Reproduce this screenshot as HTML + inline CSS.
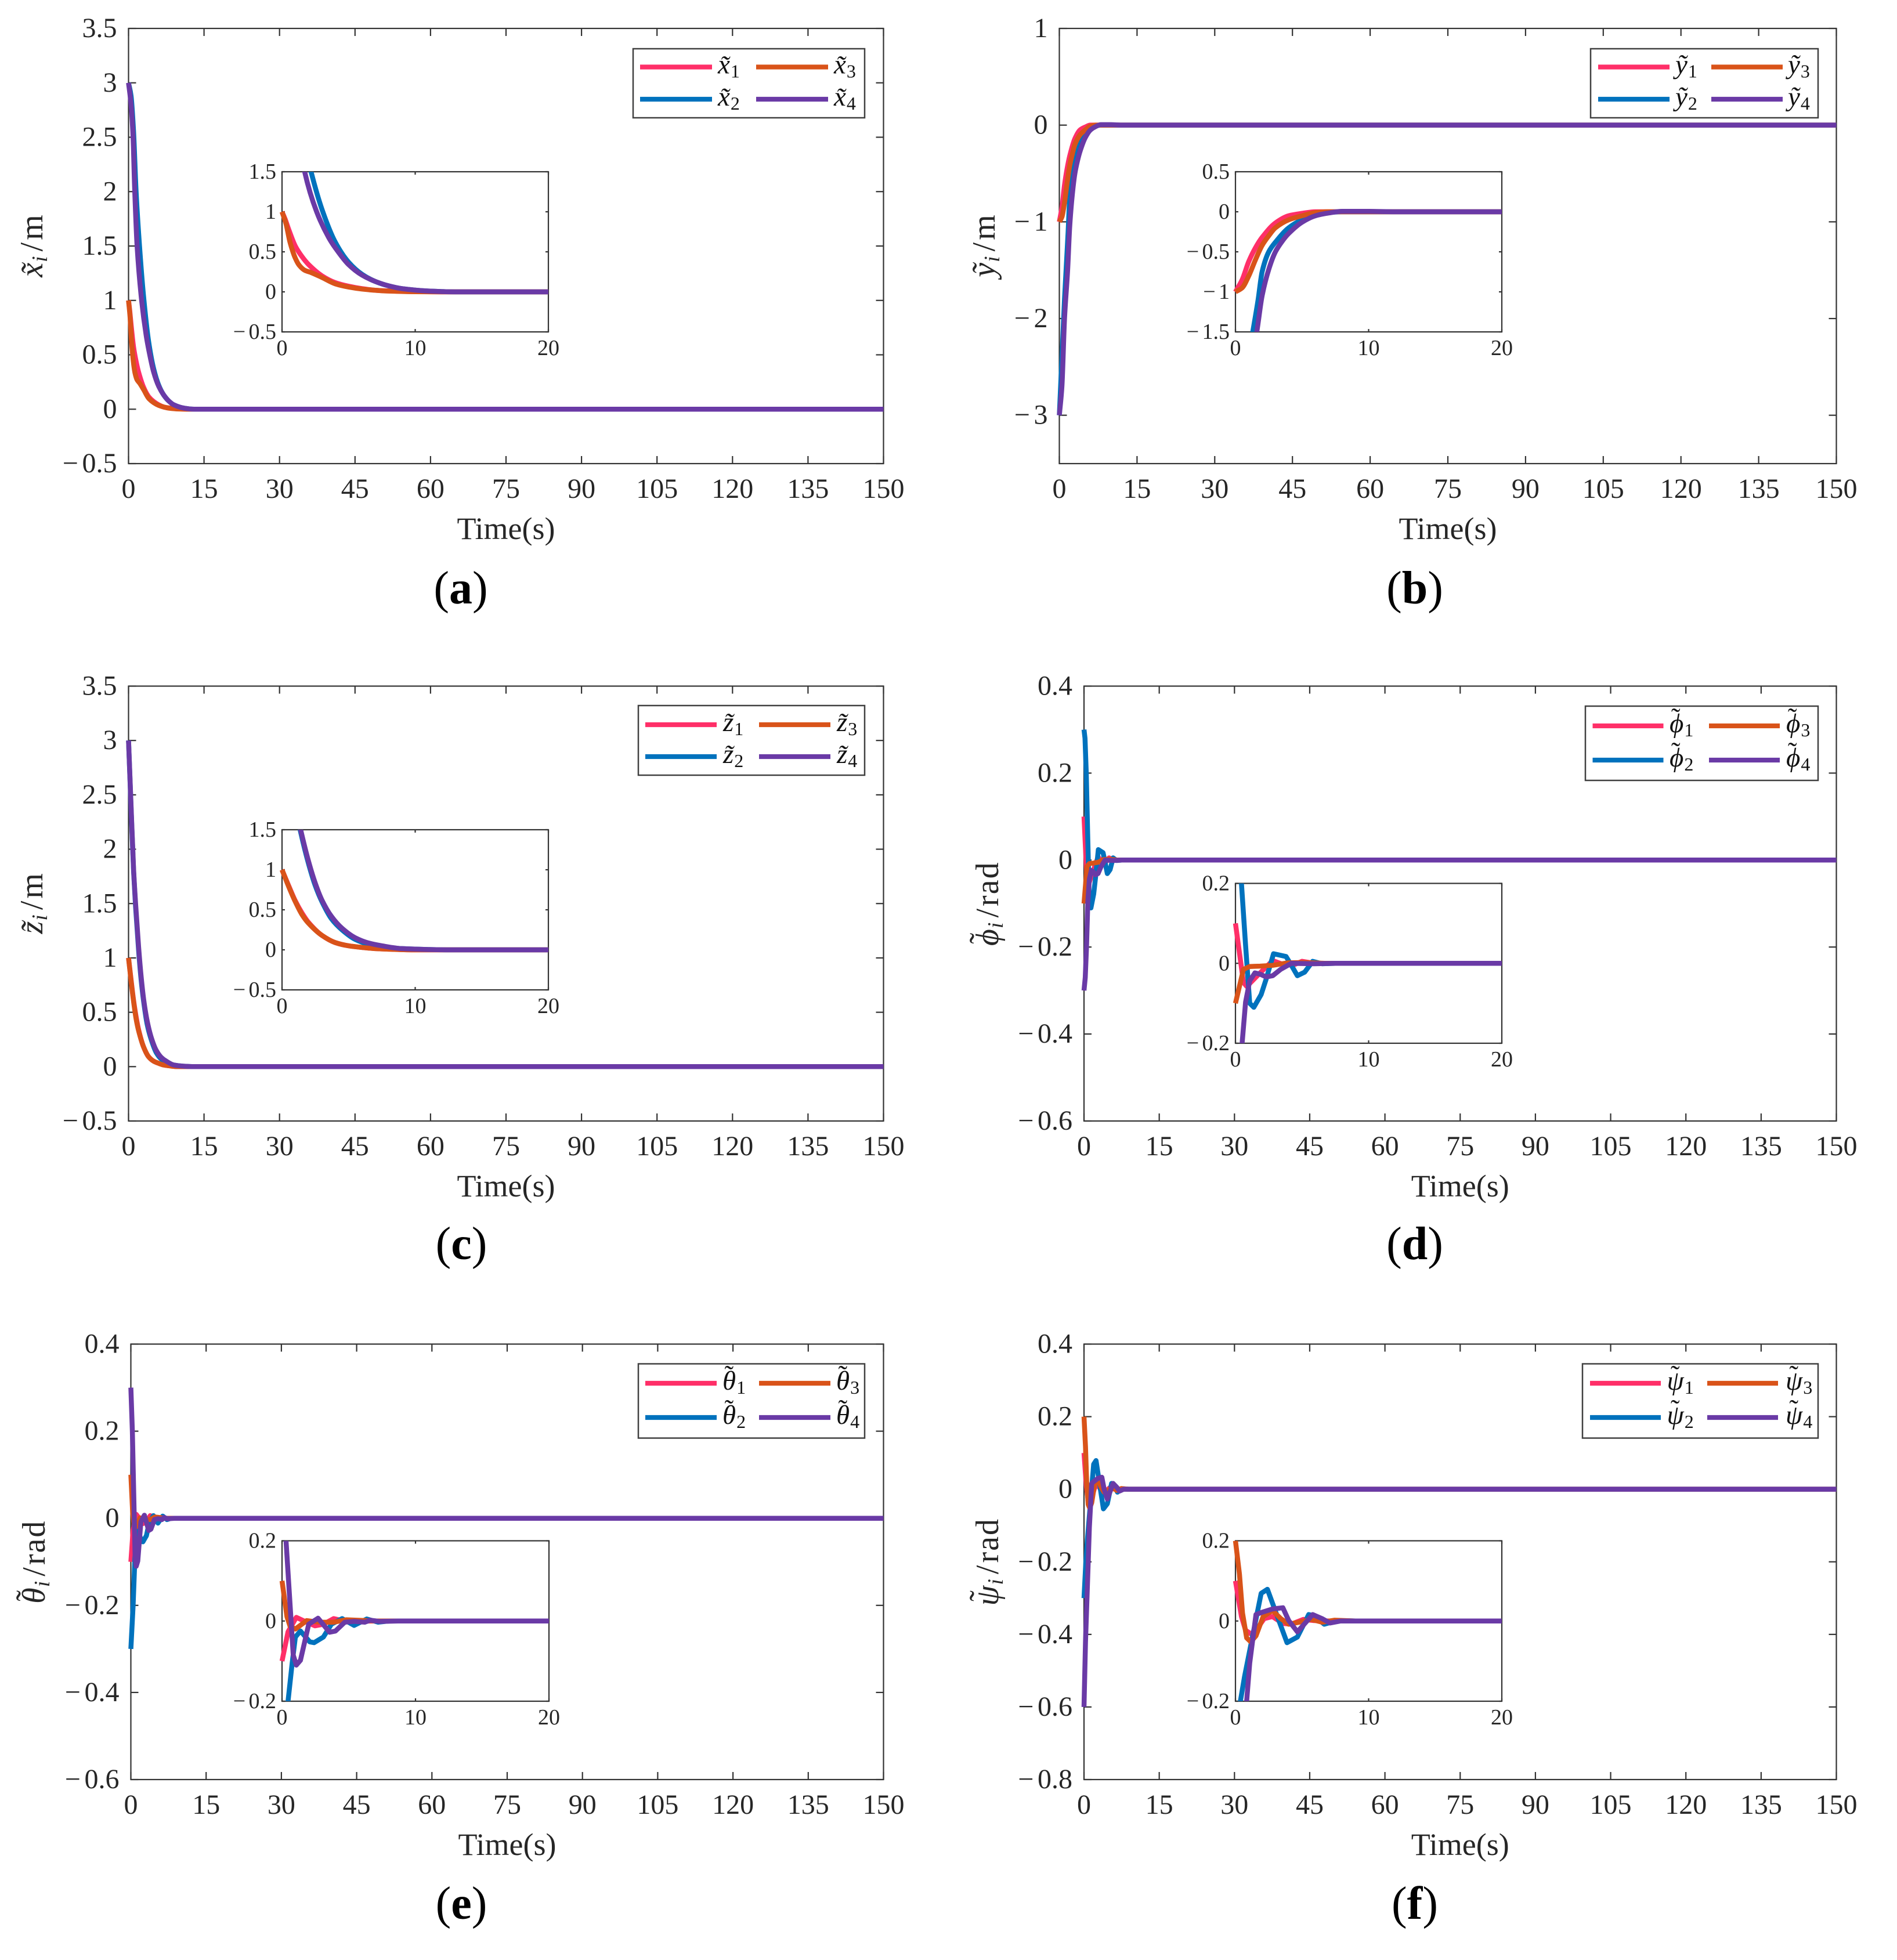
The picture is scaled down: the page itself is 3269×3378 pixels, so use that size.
<!DOCTYPE html>
<html lang="en">
<head>
<meta charset="utf-8">
<title>Tracking errors of four agents</title>
<style>
html,body{margin:0;padding:0;background:#fff;}
svg{display:block;font-family:"Liberation Serif","DejaVu Serif",serif;}
</style>
</head>
<body>
<svg id="figure" xmlns="http://www.w3.org/2000/svg" width="3269" height="3378" viewBox="0 0 3269 3378"><defs id="clips"></defs><rect width="3269" height="3378" fill="#fff"/></svg>
<script>
// ---------- shared ticks ----------
const mainXTicks = [0,15,30,45,60,75,90,105,120,135,150];
const insetXTicks = [0,10,20];

// ---------- panel a: x position error ----------
const aYTicks = [-0.5,0,0.5,1,1.5,2,2.5,3,3.5];
const aInsetYTicks = [-0.5,0,0.5,1,1.5];
const a1t = [0,0.25,0.5,1,1.5,2,3,4,5,6,7,8,10,12,150];
const a1v = [1,0.9,0.78,0.57,0.44,0.34,0.2,0.115,0.07,0.04,0.02,0.012,0.003,0,0];
const a2t = [0,0.5,1,1.5,2.18,3,4,5,6,7,8,9,11,13,150];
const a2v = [3,2.88,2.55,2.0,1.5,1.03,0.62,0.37,0.22,0.13,0.075,0.04,0.01,0,0];
const a3t = [0,0.3,0.6,1,1.3,1.7,2.2,3,4,5,6,7,8,10,12,150];
const a3v = [1,0.85,0.62,0.42,0.33,0.27,0.24,0.18,0.1,0.06,0.035,0.02,0.01,0.002,0,0];
const a4t = [0,0.5,0.9,1.2,1.7,2.6,3.5,4,5,6,7,8,9,11,13,150];
const a4v = [3,2.8,2.5,2.05,1.5,1.0,0.68,0.55,0.34,0.21,0.13,0.075,0.04,0.01,0,0];

// ---------- panel b: y position error ----------
const bYTicks = [-3,-2,-1,0,1];
const bInsetYTicks = [-1.5,-1,-0.5,0,0.5];
const b1t = [0,0.5,1,1.5,2,3,4,5,6,150];
const b1v = [-1,-0.85,-0.62,-0.45,-0.32,-0.14,-0.05,-0.02,0,0];
const b2t = [0,0.5,1,1.3,1.7,2,2.5,3,4,5,6,7,8,150];
const b2v = [-3,-2.4,-1.8,-1.5,-1.1,-0.75,-0.5,-0.38,-0.2,-0.1,-0.04,-0.01,0,0];
const b3t = [0,0.5,1,1.5,2,2.5,3,4,5,6,7,150];
const b3v = [-1,-0.95,-0.8,-0.6,-0.42,-0.3,-0.2,-0.1,-0.05,-0.01,0,0];
const b4t = [0,0.5,1,1.6,2,2.5,3,3.5,4,5,6,7,8,10,12,150];
const b4v = [-3,-2.7,-2.0,-1.5,-1.05,-0.72,-0.5,-0.37,-0.27,-0.13,-0.05,-0.015,0.005,0.005,0,0];

// ---------- panel c: z position error ----------
const cYTicks = [-0.5,0,0.5,1,1.5,2,2.5,3,3.5];
const cInsetYTicks = [-0.5,0,0.5,1,1.5];
const c1t = [0,0.5,1,1.5,2,3,4,5,6,7,8,10,150];
const c1v = [1,0.8,0.61,0.46,0.34,0.18,0.09,0.05,0.03,0.015,0.008,0,0];
const c2t = [0,0.5,1,1.4,2,2.5,3,3.7,4.5,5.5,6.5,7.5,9,11,13,150];
const c2v = [3,2.38,1.8,1.47,1.07,0.8,0.6,0.39,0.25,0.13,0.07,0.04,0.015,0.004,0,0];
const c3t = [0,0.5,1,1.5,2,3,4,5,6,7,8,10,150];
const c3v = [1,0.79,0.6,0.44,0.33,0.18,0.09,0.05,0.03,0.015,0.008,0,0];
const c4t = [0,0.5,1,1.4,2,2.5,3,3.7,4.5,5.5,6.5,7.5,9,11,13,150];
const c4v = [3,2.4,1.82,1.5,1.1,0.83,0.62,0.42,0.27,0.15,0.085,0.05,0.015,0.004,0,0];

// ---------- panel d: roll error ----------
const dYTicks = [-0.6,-0.4,-0.2,0,0.2,0.4];
const dInsetYTicks = [-0.2,0,0.2];
const d1t = [0,0.6,0.85,1.85,2.8,3.5,4.3,5,5.9,150];
const d1v = [0.1,-0.048,-0.058,-0.024,0.007,-0.002,-0.005,0.005,0,0];
const d2t = [0,0.2,0.45,0.75,1.07,1.38,1.93,2.3,2.86,3.8,4.2,4.65,5.2,5.8,6.5,7.5,150];
const d2v = [0.3,0.28,0.2,0.05,-0.1,-0.11,-0.078,-0.04,0.024,0.017,-0.005,-0.031,-0.022,0.005,-0.001,0,0];
const d3t = [0,0.6,1.07,1.85,2.8,3.9,5.1,6.7,150];
const d3v = [-0.1,-0.015,-0.008,-0.007,-0.005,0.001,0.002,0,0];
const d4t = [0,0.25,0.5,0.76,1.07,1.46,1.85,2.3,2.8,3.4,4.2,5.9,7.5,150];
const d4v = [-0.3,-0.27,-0.2,-0.097,-0.044,-0.024,-0.027,-0.034,-0.031,-0.015,0,-0.001,0,0];

// ---------- panel e: pitch error ----------
const eYTicks = [-0.6,-0.4,-0.2,0,0.2,0.4];
const eInsetYTicks = [-0.2,0,0.2];
const e1t = [0,0.45,1.07,1.85,2.47,3.1,3.87,4.8,7.1,150];
const e1v = [-0.1,-0.027,0.009,-0.003,-0.012,-0.008,0.006,-0.001,0,0];
const e2t = [0,0.45,0.76,1,1.38,2.08,2.4,3.1,3.7,4.5,5.4,6.35,7.2,8,150];
const e2v = [-0.3,-0.2,-0.105,-0.04,-0.025,-0.052,-0.054,-0.04,-0.008,0.006,-0.011,0.005,-0.003,0,0];
const e3t = [0,0.37,0.6,1,1.85,2.78,3.87,4.8,7.1,150];
const e3v = [0.1,0.011,-0.013,-0.02,0.001,-0.003,-0.003,0.003,0,0];
const e4t = [0,0.3,0.53,0.84,1.07,1.38,2,2.7,3.56,4,4.7,5.4,6.2,6.6,7.3,8.7,150];
const e4v = [0.3,0.2,0.079,-0.085,-0.11,-0.098,-0.008,0.007,-0.028,-0.025,-0.003,-0.001,-0.003,0.002,-0.001,0,0];

// ---------- panel f: yaw error ----------
const fYTicks = [-0.8,-0.6,-0.4,-0.2,0,0.2,0.4];
const fInsetYTicks = [-0.2,0,0.2];
const f1t = [0,0.45,0.76,1.15,1.54,2.16,2.78,3.56,4.18,5.1,5.9,7.1,150];
const f1v = [0.1,0.011,-0.023,-0.032,-0.023,0.006,0.011,-0.006,-0.008,0.004,0.001,0,0];
const f2t = [0,0.37,0.68,1.23,1.93,2.4,2.94,3.87,4.65,5.5,5.9,6.67,7.6,9,150];
const f2v = [-0.3,-0.2,-0.139,-0.047,0.069,0.079,0.03,-0.054,-0.04,0.016,0.013,-0.008,0.001,0,0];
const f3t = [0,0.3,0.53,0.84,1.15,1.54,2.08,2.78,3.4,4,4.8,5.7,6.5,7.45,9,150];
const f3v = [0.2,0.117,0.02,-0.042,-0.052,-0.037,0.011,0.026,0.006,-0.008,-0.003,0.004,-0.003,0.002,0,0];
const f4t = [0,0.3,0.84,1.07,1.54,1.93,2.78,3.56,4,4.65,5.8,6.5,7.1,7.9,9,150];
const f4v = [-0.6,-0.42,-0.2,-0.105,0.016,0.021,0.03,0.033,0.001,-0.027,0.016,0.006,-0.005,0,0,0];

// ---------- series styling ----------
const seriesColors = ['#FF2F68','#0072BD','#D95319','#6A3AA6'];

// ---------- layout ----------
const panels = [
 {id:'a',sym:'x\u0303',smooth:true,unit:'m',capX:794,capY:1040,ylx:73,
  L:221.5,R:1522.5,T:49,B:799,yDom:[-0.5,3.5],yT:aYTicks,
  iL:486,iR:945,iT:296,iB:572,iDom:[-0.5,1.5],iT2:aInsetYTicks,
  lg:{L:1091,R:1490,T:84,B:203,x1:1103,x2:1303,w:124,tx1:1237,tx2:1437,y1:115.5,y2:171},
  s:[[a1t,a1v],[a2t,a2v],[a3t,a3v],[a4t,a4v]]},
 {id:'b',sym:'y\u0303',smooth:true,unit:'m',capX:2438,capY:1040,ylx:1714,
  L:1825.5,R:3164.5,T:49,B:799,yDom:[-3.5,1],yT:bYTicks,
  iL:2129,iR:2588,iT:296,iB:572,iDom:[-1.5,0.5],iT2:bInsetYTicks,
  lg:{L:2741,R:3133,T:84,B:203,x1:2754,x2:2949,w:123,tx1:2887,tx2:3081,y1:115.5,y2:171},
  s:[[b1t,b1v],[b2t,b2v],[b3t,b3v],[b4t,b4v]]},
 {id:'c',sym:'z\u0303',smooth:true,unit:'m',capX:795,capY:2170,ylx:73,
  L:221.5,R:1522.5,T:1182.5,B:1932,yDom:[-0.5,3.5],yT:cYTicks,
  iL:486,iR:945,iT:1430,iB:1706,iDom:[-0.5,1.5],iT2:cInsetYTicks,
  lg:{L:1100,R:1490,T:1216,B:1336,x1:1112,x2:1308,w:123,tx1:1246,tx2:1442,y1:1249,y2:1304},
  s:[[c1t,c1v],[c2t,c2v],[c3t,c3v],[c4t,c4v]]},
 {id:'d',base:'\u03D5',bw:0.58,unit:'rad',capX:2438,capY:2170,ylx:1720,
  L:1868,R:3164.5,T:1182.5,B:1932,yDom:[-0.6,0.4],yT:dYTicks,
  iL:2129,iR:2588,iT:1522.5,iB:1798,iDom:[-0.2,0.2],iT2:dInsetYTicks,
  lg:{L:2732,R:3133,T:1217,B:1345,x1:2744.5,x2:2945,w:122,tx1:2877,tx2:3078,y1:1251,y2:1310},
  s:[[d1t,d1v],[d2t,d2v],[d3t,d3v],[d4t,d4v]]},
 {id:'e',base:'\u03B8',bw:0.5,unit:'rad',capX:795,capY:3307,ylx:77,
  L:225.5,R:1522.5,T:2316.5,B:3067,yDom:[-0.6,0.4],yT:eYTicks,
  iL:486,iR:946,iT:2655.5,iB:2932,iDom:[-0.2,0.2],iT2:eInsetYTicks,
  lg:{L:1100,R:1490,T:2350.5,B:2478.5,x1:1112,x2:1308,w:123,tx1:1245,tx2:1441,y1:2384,y2:2443},
  s:[[e1t,e1v],[e2t,e2v],[e3t,e3v],[e4t,e4v]]},
 {id:'f',base:'\u03C8',bw:0.64,unit:'rad',capX:2438,capY:3307,ylx:1720,
  L:1868,R:3164.5,T:2316.5,B:3067,yDom:[-0.8,0.4],yT:fYTicks,
  iL:2129,iR:2588,iT:2655.5,iB:2932,iDom:[-0.2,0.2],iT2:fInsetYTicks,
  lg:{L:2727,R:3133,T:2350.5,B:2478.5,x1:2740,x2:2942,w:122,tx1:2872.5,tx2:3077,y1:2384,y2:2443},
  s:[[f1t,f1v],[f2t,f2v],[f3t,f3v],[f4t,f4v]]}
];

// ---------- helpers ----------
const NS = 'http://www.w3.org/2000/svg';
const root = document.getElementById('figure');
const clips = document.getElementById('clips');
const INK = '#333333';
function node(tag, attrs, parent){
  const n = document.createElementNS(NS, tag);
  for (const k in attrs) n.setAttribute(k, attrs[k]);
  if (parent) parent.appendChild(n);
  return n;
}
function scale(d0, d1, r0, r1){ return v => r0 + (v - d0) * (r1 - r0) / (d1 - d0); }
function fmt(v){ return String(Math.abs(v)); }

// writes the tilde-accented symbol, returns the offset the next tspan must apply
function writeSymbol(textEl, P, fs){
  if (P.sym) {
    const a = node('tspan', {'font-style':'italic'}, textEl);
    a.textContent = P.sym;
    return {dx:0, dy:0};
  }
  const a = node('tspan', {'font-style':'italic'}, textEl);
  a.textContent = P.base;
  const tw = 0.333;
  const raise = fs * 0.2;
  const t = node('tspan', {dx:-(P.bw + tw) / 2 * fs, dy:-raise}, textEl);
  t.textContent = '\u02DC';
  return {dx:(P.bw - tw) / 2 * fs, dy:raise};
}

function drawAxes(parent, xS, yS, L, R, T, B, xTicks, yTicks, o){
  const frame = node('rect', {x:L, y:T, width:R-L, height:B-T, fill:'#fff', stroke:INK, 'stroke-width':o.sw}, parent);
  
  
  xTicks.forEach(v => {
    const x = xS(v);
    const t1 = node('line', {x1:x, x2:x, y1:T, y2:T+o.tick, stroke:INK, 'stroke-width':o.sw}, parent);
    
    
    const t2 = node('line', {x1:x, x2:x, y1:B, y2:B-o.tick, stroke:INK, 'stroke-width':o.sw}, parent);
    
    
    const lab = node('text', {x:x, y:B+o.xOff, 'font-size':o.fs, 'text-anchor':'middle', fill:'#262626'}, parent);
    
    
    lab.textContent = String(v);
  });
  yTicks.forEach(v => {
    const y = yS(v);
    const t1 = node('line', {x1:L, x2:L+o.tick, y1:y, y2:y, stroke:INK, 'stroke-width':o.sw}, parent);
    
    
    const t2 = node('line', {x1:R, x2:R-o.tick, y1:y, y2:y, stroke:INK, 'stroke-width':o.sw}, parent);
    
    
    const lab = node('text', {x:L-o.yGap, y:y+o.yOff, 'font-size':o.fs, 'text-anchor':'end', fill:'#262626'}, parent);
    
    
    if (v < 0) {
      const m = node('tspan', {}, lab);
      m.textContent = '\u2212';
      const d = node('tspan', {dx:o.fs*0.14}, lab);
      d.textContent = fmt(v);
    } else {
      lab.textContent = fmt(v);
    }
  });
}

// straight polyline for the oscillating panels, monotone cubic for the decaying ones
function seriesPath(t, v, xS, yS, xMax, smooth){
  const px = [], py = [];
  for (let k = 0; k < t.length; k++) {
    px.push(xS(Math.min(t[k], xMax)));
    py.push(yS(v[k]));
    if (t[k] >= xMax) break;
  }
  const n = px.length;
  let d = 'M' + px[0].toFixed(2) + ' ' + py[0].toFixed(2);
  if (!smooth) {
    for (let k = 1; k < n; k++) d += 'L' + px[k].toFixed(2) + ' ' + py[k].toFixed(2);
    return d;
  }
  const sl = [];
  for (let k = 0; k < n-1; k++) sl.push((py[k+1]-py[k]) / (px[k+1]-px[k]));
  const m = [sl[0]];
  for (let k = 1; k < n-1; k++) {
    const a = sl[k-1], b = sl[k];
    m.push(a*b <= 0 ? 0 : 2*a*b/(a+b));
  }
  m.push(sl[n-2]);
  for (let k = 0; k < n-1; k++) {
    const h = (px[k+1]-px[k]) / 3;
    d += 'C' + (px[k]+h).toFixed(2) + ' ' + (py[k]+m[k]*h).toFixed(2) + ' '
       + (px[k+1]-h).toFixed(2) + ' ' + (py[k+1]-m[k+1]*h).toFixed(2) + ' '
       + px[k+1].toFixed(2) + ' ' + py[k+1].toFixed(2);
  }
  return d;
}

function drawSeries(parent, xS, yS, series, clipId, xMax, prefix, smooth){
  const g = node('g', {'clip-path':'url(#' + clipId + ')', fill:'none'}, parent);
  
  
  series.forEach((s, i) => {
    const d = seriesPath(s[0], s[1], xS, yS, xMax, smooth);
    const p = node('path', {d:d, stroke:seriesColors[i], 'stroke-width':8.5, 'stroke-linejoin':'round', 'stroke-linecap':'butt'}, g);
    
    
  });
}

function addClip(id, x, y, w, h){
  const c = node('clipPath', {id:id}, clips);
  node('rect', {x:x, y:y, width:w, height:h}, c);
}

// ---------- draw ----------
panels.forEach(P => {
  const g = node('g', {}, root);
  
  

  // main axes
  const xS = scale(0, 150, P.L, P.R);
  const yS = scale(P.yDom[0], P.yDom[1], P.B, P.T);
  drawAxes(g, xS, yS, P.L, P.R, P.T, P.B, mainXTicks, P.yT,
    {sw:2.2, tick:13, fs:48, xOff:59, yGap:20, yOff:15, prefix:''});
  addClip('clip-main-' + P.id, P.L-5, P.T, P.R-P.L+5, P.B-P.T);
  drawSeries(g, xS, yS, P.s, 'clip-main-' + P.id, 150, '', !!P.smooth);

  // x axis title
  const xt = node('text', {x:(P.L+P.R)/2, y:P.B+130, 'font-size':54, 'text-anchor':'middle', fill:'#262626'}, g);
  
  
  xt.textContent = 'Time(s)';

  // y axis title
  const yt = node('text', {transform:'translate(' + P.ylx + ',' + ((P.T+P.B)/2) + ') rotate(-90)', 'font-size':56, 'text-anchor':'middle', fill:'#262626'}, g);
  
  
  const yOffset = writeSymbol(yt, P, 56);
  const yi = node('tspan', {'font-style':'italic', 'font-size':38, dy:8 + yOffset.dy, dx:1 + yOffset.dx}, yt);
  yi.textContent = 'i';
  const ysl = node('tspan', {dy:-8, dx:8}, yt);
  ysl.textContent = '/';
  const yu = node('tspan', {dx:4, 'letter-spacing':P.unit === 'rad' ? 2 : 0}, yt);
  yu.textContent = P.unit;

  // legend
  const lg = P.lg;
  const lb = node('rect', {x:lg.L, y:lg.T, width:lg.R-lg.L, height:lg.B-lg.T, fill:'#fff', stroke:'#404040', 'stroke-width':2.5}, g);
  
  
  [[lg.x1,lg.tx1,lg.y1,1],[lg.x1,lg.tx1,lg.y2,2],[lg.x2,lg.tx2,lg.y1,3],[lg.x2,lg.tx2,lg.y2,4]].forEach(e => {
    const sw = node('line', {x1:e[0], x2:e[0]+lg.w, y1:e[2], y2:e[2], stroke:seriesColors[e[3]-1], 'stroke-width':8.3}, g);
    
    
    const lt = node('text', {x:e[1], y:e[2]+11, 'font-size':47, fill:'#111'}, g);
    
    
    const off = writeSymbol(lt, P, 47);
    const b = node('tspan', {'font-size':32, dy:7 + off.dy, dx:1 + off.dx}, lt);
    b.textContent = String(e[3]);
  });

  // inset
  const ig = node('g', {}, g);
  
  
  const ixS = scale(0, 20, P.iL, P.iR);
  const iyS = scale(P.iDom[0], P.iDom[1], P.iB, P.iT);
  drawAxes(ig, ixS, iyS, P.iL, P.iR, P.iT, P.iB, insetXTicks, P.iT2,
    {sw:2.2, tick:5, fs:38, xOff:40, yGap:10, yOff:12, prefix:'inset-'});
  addClip('clip-inset-' + P.id, P.iL-5, P.iT, P.iR-P.iL+5, P.iB-P.iT);
  drawSeries(ig, ixS, iyS, P.s, 'clip-inset-' + P.id, 20, 'inset-', !!P.smooth);

  // caption
  const cap = node('text', {x:P.capX, y:P.capY, 'font-size':80, 'text-anchor':'middle', fill:'#000'}, g);
  
  
  const c1 = node('tspan', {}, cap);
  c1.textContent = '(';
  const c2 = node('tspan', {'font-weight':'bold'}, cap);
  c2.textContent = P.id;
  const c3 = node('tspan', {}, cap);
  c3.textContent = ')';
});
</script>
</body>
</html>
